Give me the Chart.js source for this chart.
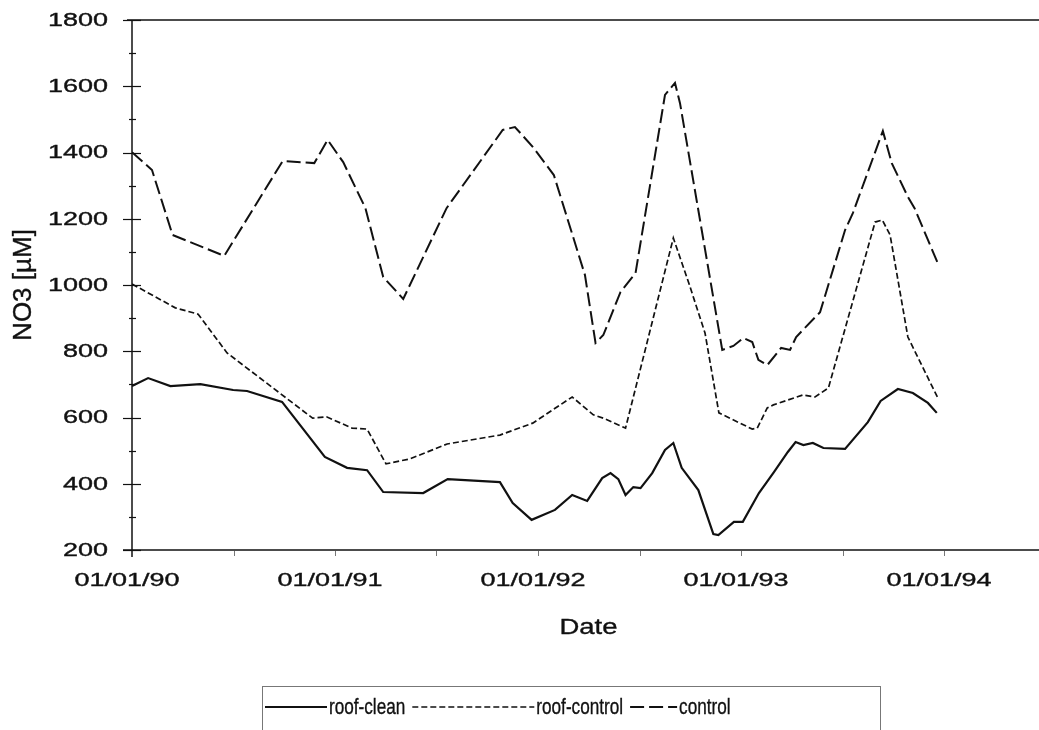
<!DOCTYPE html>
<html>
<head>
<meta charset="utf-8">
<script src="https://cdn.jsdelivr.net/npm/chart.js@4.4.0/dist/chart.umd.min.js"></script>
<style>
  html, body { margin: 0; padding: 0; background: #fff; }
</style>
</head>
<body>
<canvas id="no3-chart" width="1039" height="730"></canvas>
<script>
// NO3 [µM] per sampling date
const cleanDates = [
    '1990-01-01', '1990-01-30', '1990-03-11', '1990-05-04', '1990-07-02', '1990-07-27',
    '1990-09-28', '1990-12-14', '1991-01-23', '1991-02-28', '1991-03-29', '1991-06-09',
    '1991-07-23', '1991-10-25', '1991-11-17', '1991-12-21', '1992-02-01', '1992-03-03',
    '1992-03-30', '1992-04-26', '1992-05-11', '1992-05-25', '1992-06-07', '1992-06-21',
    '1992-07-04', '1992-07-25', '1992-08-17', '1992-09-01', '1992-09-16', '1992-10-16',
    '1992-11-12', '1992-11-21', '1992-12-19', '1993-01-04', '1993-02-02', '1993-03-01',
    '1993-03-26', '1993-04-09', '1993-04-23', '1993-05-10', '1993-05-29', '1993-07-07',
    '1993-08-17', '1993-09-09', '1993-10-10', '1993-11-06', '1993-12-03', '1993-12-19'
];
const cleanValues = [
    695, 719, 695, 701, 683, 680,
    647, 481, 448, 441, 375, 372,
    414, 405, 342, 291, 321, 366,
    348, 417, 432, 414, 366, 390,
    387, 432, 502, 523, 448, 381,
    248, 245, 285, 285, 372, 435,
    496, 526, 517, 523, 508, 505,
    586, 650, 686, 674, 644, 614
];

const roofControlDates = [
    '1990-01-01', '1990-03-20', '1990-04-30', '1990-06-21', '1990-11-22', '1990-12-17',
    '1991-02-01', '1991-02-28', '1991-04-03', '1991-05-16', '1991-07-22', '1991-10-25',
    '1991-12-23', '1992-03-03', '1992-04-10', '1992-04-28', '1992-06-07', '1992-09-01',
    '1992-09-30', '1992-10-28', '1992-11-22', '1993-01-21', '1993-01-30', '1993-02-17',
    '1993-02-28', '1993-04-22', '1993-05-14', '1993-06-07', '1993-08-30', '1993-09-12',
    '1993-09-26', '1993-10-28', '1993-12-20'
];
const roofControlValues = [
    1003, 931, 912, 795, 598, 602,
    568, 565, 460, 475, 520, 547,
    583, 662, 608, 598, 568, 1142,
    1000, 855, 614, 565, 568, 629,
    638, 668, 662, 689, 1190, 1196,
    1151, 843, 662
];

const controlDates = [
    '1990-01-01', '1990-02-06', '1990-03-15', '1990-06-16', '1990-09-29', '1990-11-25',
    '1990-12-19', '1991-01-16', '1991-02-25', '1991-03-29', '1991-05-04', '1991-07-21',
    '1991-10-30', '1991-11-21', '1991-12-23', '1992-01-30', '1992-03-26', '1992-04-14',
    '1992-04-28', '1992-05-29', '1992-06-25', '1992-08-17', '1992-09-04', '1992-09-13',
    '1992-11-28', '1992-12-18', '1993-01-05', '1993-01-21', '1993-02-01', '1993-02-17',
    '1993-03-14', '1993-03-30', '1993-04-10', '1993-05-23', '1993-07-07', '1993-07-21',
    '1993-09-13', '1993-09-29', '1993-10-28', '1993-11-09', '1993-12-20'
];
const controlValues = [
    1401, 1347, 1151, 1088, 1374, 1368,
    1438, 1371, 1232, 1024, 958, 1232,
    1468, 1477, 1417, 1332, 1030, 825,
    849, 979, 1036, 1574, 1610, 1549,
    804, 816, 840, 828, 774, 758,
    810, 804, 843, 918, 1166, 1217,
    1465, 1368, 1266, 1232, 1069
];

const xTickLabels = ['01/01/90', '01/01/91', '01/01/92', '01/01/93', '01/01/94'];
const yTickValues = [200, 400, 600, 800, 1000, 1200, 1400, 1600, 1800];

const seriesNames = ['roof-clean', 'roof-control', 'control'];

// years since 01/01/90
function toYears(s) {
    const p = s.split('-');
    return (Date.UTC(+p[0], +p[1] - 1, +p[2]) - Date.UTC(1990, 0, 1)) / (365.25 * 86400000);
}

function toPoints(dates, values) {
    return dates.map((d, i) => ({ x: toYears(d), y: values[i] }));
}

function line(ctx, x1, y1, x2, y2) {
    ctx.beginPath();
    ctx.moveTo(x1, y1);
    ctx.lineTo(x2, y2);
    ctx.stroke();
}

// the scanned figure has wide tick numbers and narrow legend text,
// so scale text horizontally; a thin stroke makes it as heavy as the scan
function wideText(ctx, text, x, y, sx, align) {
    ctx.save();
    ctx.translate(x, y);
    ctx.scale(sx, 1);
    ctx.textAlign = align;
    ctx.lineWidth = 0.35;
    ctx.strokeStyle = '#111';
    ctx.fillText(text, 0, 0);
    ctx.strokeText(text, 0, 0);
    ctx.restore();
}

const excelAxes = {
    id: 'excelAxes',
    afterDraw(chart) {
        const ctx = chart.ctx;
        const area = chart.chartArea;
        const xs = chart.scales.x;
        const ys = chart.scales.y;
        ctx.save();
        ctx.strokeStyle = '#111';
        ctx.fillStyle = '#111';
        ctx.lineWidth = 1.5;

        // plot frame: top, left axis, bottom axis
        line(ctx, area.left - 5, area.top, area.right, area.top);
        line(ctx, area.left, area.top, area.left, area.bottom + 7);
        line(ctx, area.left - 9, area.bottom, area.right, area.bottom);

        // y ticks: major every 200, minor every 100, crossing the axis
        for (let v = yTickValues[0]; v <= yTickValues[yTickValues.length - 1]; v += 100) {
            const y = Math.round(ys.getPixelForValue(v)) + 0.5;
            const major = yTickValues.includes(v);
            ctx.lineWidth = 1.2;
            line(ctx, area.left - (major ? 9 : 3), y, area.left + (major ? 9 : 4), y);
        }

        // x ticks every half year (faint)
        ctx.strokeStyle = '#777';
        ctx.lineWidth = 1;
        for (let k = 0.5; k <= xTickLabels.length - 0.5; k += 0.5) {
            const x = Math.round(xs.getPixelForValue(k)) + 0.5;
            line(ctx, x, area.bottom + 1, x, area.bottom + 6);
        }

        // tick labels
        ctx.fillStyle = '#111';
        ctx.font = '18px "Liberation Sans", Arial, sans-serif';
        ctx.textBaseline = 'middle';
        yTickValues.forEach(v => {
            wideText(ctx, String(v), area.left - 24, ys.getPixelForValue(v) + 1, 1.5, 'right');
        });
        xTickLabels.forEach((lab, k) => {
            wideText(ctx, lab, xs.getPixelForValue(k) - 5, area.bottom + 31, 1.5, 'center');
        });

        // axis titles
        ctx.font = '22px "Liberation Sans", Arial, sans-serif';
        wideText(ctx, 'Date', (area.left + area.right) / 2 + 3, area.bottom + 78, 1.25, 'center');
        ctx.save();
        ctx.translate(24, (area.top + area.bottom) / 2);
        ctx.rotate(-Math.PI / 2);
        ctx.font = '26px "Liberation Sans", Arial, sans-serif';
        wideText(ctx, 'NO3 [µM]', 0, 0, 1, 'center');
        ctx.restore();

        // legend box below the plot
        const sampleLengths = [62, 122, 47];
        const legendY = 707;
        ctx.strokeStyle = '#777';
        ctx.lineWidth = 1;
        ctx.strokeRect(262.5, 686.5, 618, 60);
        ctx.font = '22px "Liberation Sans", Arial, sans-serif';
        let x = 265;
        chart.data.datasets.forEach((ds, i) => {
            ctx.strokeStyle = '#111';
            ctx.lineWidth = ds.borderWidth;
            ctx.setLineDash(ds.borderDash || []);
            line(ctx, x, legendY, x + sampleLengths[i], legendY);
            ctx.setLineDash([]);
            x += sampleLengths[i] + 2;
            wideText(ctx, ds.label, x, legendY + 1, 0.78, 'left');
            x += ctx.measureText(ds.label).width * 0.78 + 7;
        });
        ctx.restore();
    }
};

const config = {
    type: 'line',
    data: {
        datasets: [
            {
                label: seriesNames[0],
                data: toPoints(cleanDates, cleanValues),
                borderColor: '#111',
                borderWidth: 2.2,
                borderDash: [],
                pointRadius: 0,
                tension: 0,
                fill: false
            },
            {
                label: seriesNames[1],
                data: toPoints(roofControlDates, roofControlValues),
                borderColor: '#111',
                borderWidth: 1.7,
                borderDash: [6, 3],
                pointRadius: 0,
                tension: 0,
                fill: false
            },
            {
                label: seriesNames[2],
                data: toPoints(controlDates, controlValues),
                borderColor: '#111',
                borderWidth: 2,
                borderDash: [14, 5],
                pointRadius: 0,
                tension: 0,
                fill: false
            }
        ]
    },
    options: {
        responsive: false,
        devicePixelRatio: 1,
        animation: false,
        layout: {
            padding: { left: 132, top: 20, right: 0, bottom: 180 }
        },
        plugins: {
            legend: { display: false },
            tooltip: { enabled: false }
        },
        scales: {
            x: {
                type: 'linear',
                min: 0,
                max: 907 / 203,
                display: false
            },
            y: {
                min: 200,
                max: 1800,
                display: false
            }
        }
    },
    plugins: [excelAxes]
};

new Chart(document.getElementById('no3-chart'), config);
</script>
</body>
</html>
